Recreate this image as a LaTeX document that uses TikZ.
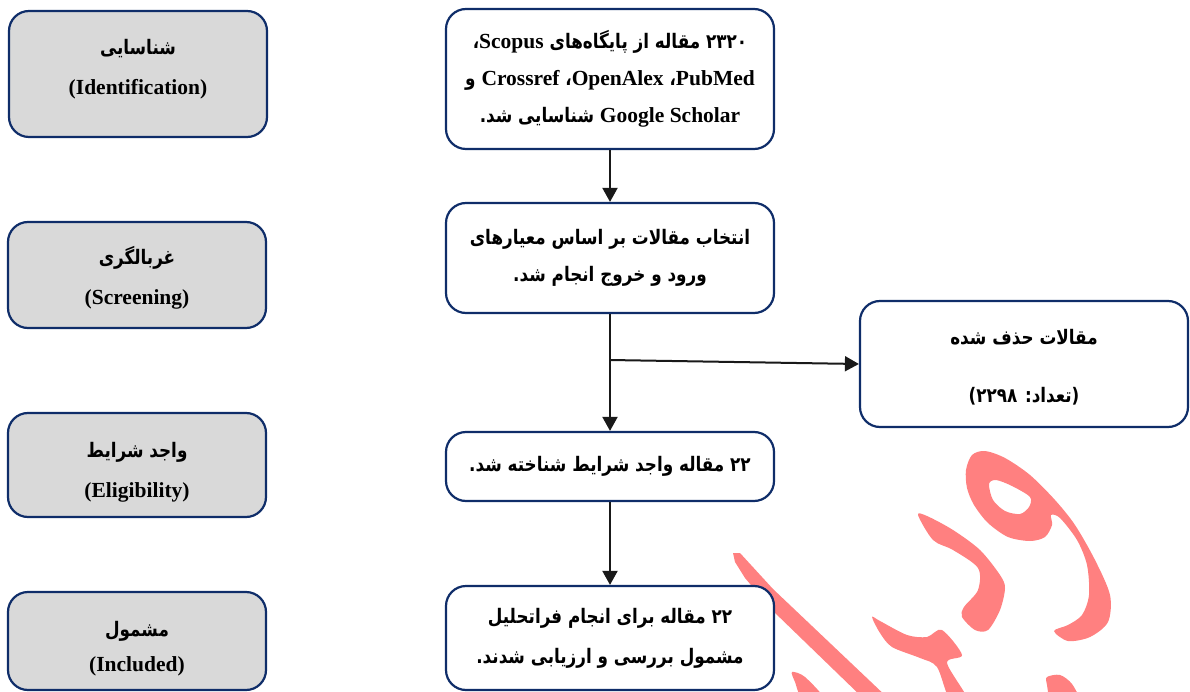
\documentclass[tikz,border=0pt]{standalone}
\usepackage{fontspec}
\setmainfont{Liberation Serif}
\newfontfamily\fafont[Script=Arabic, FakeStretch=0.84]{DejaVu Sans}
\TeXXeTstate=1
\usetikzlibrary{arrows.meta}
\definecolor{navy}{HTML}{0F2D69}
\definecolor{boxgray}{HTML}{D9D9D9}
\definecolor{wm}{HTML}{FF8080}
\newcommand{\fatxt}[1]{{\fafont\bfseries\beginR #1\endR}}
\newcommand{\lat}[1]{{\rmfamily\bfseries\fontsize{21.5}{24}\selectfont #1}}
\tikzset{
  cbox/.style={draw=navy, line width=2.2pt, rounded corners=20pt, fill=white,
    align=center, inner sep=0pt, font=\fontsize{20}{37}\selectfont},
  lbox/.style={draw=navy, line width=2.2pt, rounded corners=20pt, fill=boxgray, inner sep=0pt},
  ltxt/.style={align=center, inner sep=0pt, font=\fontsize{20}{40}\selectfont},
  arr/.style={-{Triangle[length=14pt,width=15pt]}, line width=2pt, draw=black!90, fill=black!90},
  wmark/.style={fill=wm, draw=none}
}
\begin{document}
\begin{tikzpicture}[x=1pt,y=-1pt]
\useasboundingbox (0,0) rectangle (1190,692);
% watermark
\begin{scope}
\clip (0,0) rectangle (1190,692);
\fill[wmark, even odd rule] plot[smooth cycle] coordinates {(966,470) (972,455) (985,451) (1005,458) (1030,475) (1055,500) (1075,525) (1095,560) (1110,595) (1108,622) (1090,637) (1068,641) (1054,631) (1068,625) (1082,615) (1089,595) (1087,565) (1077,540) (1060,518) (1051,515) (1052,525) (1045,537) (1030,541) (1008,537) (988,523) (974,505) (967,488)}
  plot[smooth cycle] coordinates {(989,484) (996,480) (1012,486) (1030,497) (1029,507) (1020,514) (1005,511) (993,500)};
\fill[wmark] plot[smooth cycle] coordinates {(918,515) (933,540) (953,550) (978,568) (978,590) (964,607) (962,617) (975,630) (988,630) (1000,610) (1005,588) (1000,575) (980,550) (953,530) (927,516)};
\fill[wmark] plot[smooth cycle] coordinates {(872,617) (880,633) (892,647) (920,658) (937,667) (950,700) (968,700) (947,663) (962,655) (942,630) (927,637) (907,635) (880,621)};
\fill[wmark] (733,553) -- (740,553) -- (773,589) -- (890,700) -- (865,700) -- (773,611) -- (745,578) -- (735,562) -- cycle;
\fill[wmark] plot[smooth cycle] coordinates {(792,672) (805,677) (825,700) (803,700) (795,682)};
\fill[wmark] plot[smooth cycle] coordinates {(1047,677) (1060,675) (1072,684) (1078,700) (1052,700) (1047,685)};
\end{scope}
% left phase boxes
\node[lbox, minimum width=258pt, minimum height=126pt] (L1) at (138,74) {};
\node[ltxt] (L1t) at ([yshift=5pt]L1.center) {\fatxt{شناسایی}\\ \lat{(Identification)}};
\node[lbox, minimum width=258pt, minimum height=106pt] (L2) at (137,275) {};
\node[ltxt] (L2t) at ([yshift=-3pt]L2.center) {\fatxt{غربالگری}\\ \lat{(Screening)}};
\node[lbox, minimum width=258pt, minimum height=104pt] (L3) at (137,465) {};
\node[ltxt] (L3t) at ([yshift=-7pt]L3.center) {\fatxt{واجد شرایط}\\ \lat{(Eligibility)}};
\node[lbox, minimum width=258pt, minimum height=98pt] (L4) at (137,641) {};
\node[ltxt] (L4t) at ([yshift=-8pt]L4.center) {\fatxt{مشمول}\\[-5pt] \lat{(Included)}};
% centre flow
\node[cbox, minimum width=328pt, minimum height=140pt] (C1) at (610,79)
  {\fatxt{۲۳۲۰ مقاله از پایگاه‌های \lat{Scopus}،}\\
   \fatxt{\lat{PubMed}، \lat{OpenAlex}، \lat{Crossref} و}\\
   \fatxt{\lat{\beginL Google Scholar\endL} شناسایی شد.}};
\node[cbox, minimum width=328pt, minimum height=110pt] (C2) at (610,258)
  {\fatxt{انتخاب مقالات بر اساس معیارهای}\\
   \fatxt{ورود و خروج انجام شد.}};
\node[cbox, minimum width=328pt, minimum height=69pt] (C3) at (610,466.5)
  {\fatxt{۲۲ مقاله واجد شرایط شناخته شد.}};
\node[cbox, minimum width=328pt, minimum height=104pt] (C4) at (610,638)
  {\fatxt{۲۲ مقاله برای انجام فراتحلیل}\\[3pt]
   \fatxt{مشمول بررسی و ارزیابی شدند.}};
\node[cbox, minimum width=328pt, minimum height=126pt] (R) at (1024,364) {};
\node[align=center, inner sep=0pt, font=\fontsize{20}{37}\selectfont] (Rt) at ([yshift=-3pt]R.center)
  {\fatxt{مقالات حذف شده}\\[21pt]
   \fatxt{(تعداد: ^^^^200f۲۲۹۸)}};
% connectors
\coordinate (br) at (609.5,360);
\draw[arr] (C1.south) -- (C2.north);
\draw[arr] (C2.south) -- (C3.north);
\draw[arr] (br) -- (R.west);
\draw[arr] (C3.south) -- (C4.north);
\end{tikzpicture}
\end{document}
